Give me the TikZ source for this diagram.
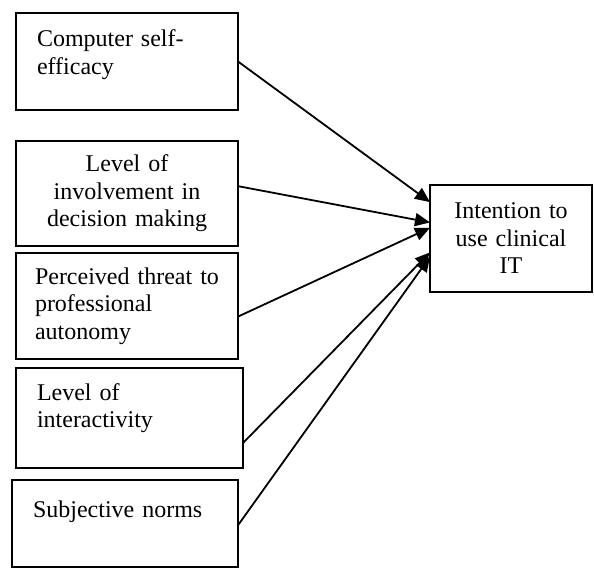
\documentclass[tikz,border=0pt]{standalone}
\usepackage{fontspec}
\setmainfont{Liberation Serif}
\usetikzlibrary{arrows.meta,calc}

\begin{document}
\begin{tikzpicture}[
    x=1pt, y=-1pt,
    box/.style={draw, line width=1.8pt, anchor=north west, inner ysep=0pt, outer sep=0pt,
        font=\fontsize{24}{27.5}\selectfont},
    leftbox/.style={box, inner xsep=21pt, text width=#1, align=left},
    arrow/.style={-{Triangle[length=15pt,width=13pt]}, line width=1.8pt}
]
\useasboundingbox (0,0) rectangle (594,569);

% Predictors
\node[leftbox=180pt, text height=34pt, text depth=63pt] (cse) at (16,13) {Computer self-\\efficacy};
\node[box, inner xsep=21pt, text width=180pt, align=center, minimum height=105pt] (lid) at (16,141) {Level of\\involvement in\\decision making};
\node[leftbox=184pt, inner xsep=19pt, minimum height=106pt] (ptpa) at (16,253) {Perceived threat to\\professional\\autonomy};
\node[leftbox=185pt, text height=32pt, text depth=68pt] (loi) at (16,368) {Level of\\interactivity};
\node[leftbox=184pt, text height=37pt, text depth=50pt] (sn) at (12,480) {Subjective norms};

% Outcome
\node[box, inner xsep=16pt, text width=130pt, align=center, minimum height=107pt] (it) at (430,185) {Intention to\\use clinical\\IT};

% Arrows
\draw[arrow] (cse.east) -- ($(it.north west)!0.16!(it.south west)$);
\draw[arrow] ($(lid.north east)!0.43!(lid.south east)$) -- ($(it.north west)!0.35!(it.south west)$);
\draw[arrow] ($(ptpa.north east)!0.60!(ptpa.south east)$) -- ($(it.north west)!0.40!(it.south west)$);
\draw[arrow] ($(loi.north east)!0.75!(loi.south east)$) -- ($(it.north west)!0.63!(it.south west)$);
\draw[arrow] ($(sn.north east)!0.52!(sn.south east)$) -- ($(it.north west)!0.67!(it.south west)$);

\end{tikzpicture}
\end{document}
